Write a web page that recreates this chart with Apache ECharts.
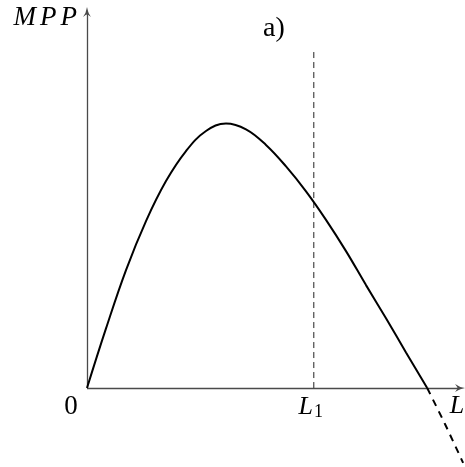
<!DOCTYPE html>
<html>
<head>
<meta charset="utf-8">
<script src="https://cdn.jsdelivr.net/npm/echarts@6/dist/echarts.min.js"></script>
<style>
  html, body { margin: 0; padding: 0; background: #fff; }
  #chart { width: 465px; height: 467px; }
</style>
</head>
<body>
<div id="chart"></div>
<script>
// Marginal physical product of labour: rises, peaks, falls through zero
const labour = [0, 0.503, 1.032, 1.561, 2.090, 2.619, 3.148, 3.677, 4.206,
  4.735, 5.265, 5.794, 6.323, 6.852, 7.381, 7.910, 8.439, 9.0];
const mpp = [0, 1.585, 3.138, 4.441, 5.505, 6.303, 6.835, 7.035, 6.880,
  6.465, 5.894, 5.231, 4.473, 3.641, 2.737, 1.854, 0.947, 0];
// Continuation below the L axis
const labourNeg = [9.0, 9.47, 9.95];
const mppNeg = [0, -0.957, -1.99];
// Chosen labour level L1 and the height of its guide line
const L1 = 6;
const guideTop = 8.95;
// Axis extents
const xAxisEnd = 9.87;
const yAxisEnd = 10;

const pairs = (xs, ys) => xs.map((x, i) => [x, ys[i]]);

const chart = echarts.init(document.getElementById('chart'), null, { renderer: 'canvas' });
const serif = '"Liberation Serif", "DejaVu Serif", serif';
const axisColor = '#4a4a4a';
// arrowhead with curved barbs, pointing along the axis
const arrowHead = 'path://M5,0 Q6,6 10,10 Q6,7.6 5,7.6 Q4,7.6 0,10 Q4,6 5,0 Z';

chart.setOption({
  animation: false,
  grid: { left: 87, top: 12, width: 378, height: 455, containLabel: false },
  xAxis: { type: 'value', min: 0, max: 10, show: false },
  yAxis: { type: 'value', min: -2.1, max: 10, show: false },
  series: [
    {
      type: 'line', data: pairs(labour, mpp), smooth: 0.4, showSymbol: false,
      lineStyle: { color: '#000', width: 2 }, z: 5,
      markLine: {
        silent: true, symbol: ['none', arrowHead], symbolSize: [8, 10],
        lineStyle: { color: axisColor, width: 1.3, type: 'solid' },
        itemStyle: { color: '#111' },
        label: { show: false },
        data: [
          [{ coord: [0, 0] }, { coord: [0, yAxisEnd] }],
          [{ coord: [0, 0] }, { coord: [xAxisEnd, 0] }]
        ]
      }
    },
    {
      type: 'line', data: pairs(labourNeg, mppNeg), smooth: 0.3, showSymbol: false,
      lineStyle: { color: '#000', width: 2, type: [7, 6] }, z: 5
    },
    {
      type: 'line', data: [[L1, 0], [L1, guideTop]], showSymbol: false,
      lineStyle: { color: '#222', width: 1, type: [6, 4] }, z: 4
    }
  ]
});

// Text labels placed from data coordinates
const px = (x, y) => chart.convertToPixel({ gridIndex: 0 }, [x, y]);
const origin = px(0, 0);
const l1Pos = px(L1, 0);
const lEnd = px(xAxisEnd, 0);
const yTop = px(0, yAxisEnd);
const italic = { font: 'italic 27px ' + serif, fill: '#000', padding: [0, 4, 0, 0] };

chart.setOption({
  graphic: [
    { type: 'text', x: yTop[0] - 6, y: yTop[1] + 6,
      style: { text: '{m|M}{m|P}{m|P}', align: 'right', verticalAlign: 'middle', fill: '#000', rich: { m: italic } } },
    { type: 'text', x: 274, y: 29,
      style: { text: 'a)', font: '28px ' + serif, fill: '#000', align: 'center', verticalAlign: 'middle' } },
    { type: 'text', x: origin[0] - 16, y: origin[1] + 19,
      style: { text: '0', font: '27px ' + serif, fill: '#000', align: 'center', verticalAlign: 'middle' } },
    { type: 'text', x: l1Pos[0] - 3, y: origin[1] + 19,
      style: {
        text: '{i|L}{s|1}', align: 'center', verticalAlign: 'middle', fill: '#000',
        rich: {
          i: { font: 'italic 26px ' + serif, fill: '#000' },
          s: { font: '18px ' + serif, fill: '#000', padding: [11, 0, 0, 1] }
        }
      } },
    { type: 'text', x: lEnd[0] - 3, y: origin[1] + 18,
      style: { text: 'L', font: 'italic 26px ' + serif, fill: '#000', align: 'center', verticalAlign: 'middle' } }
  ]
});
</script>
</body>
</html>
